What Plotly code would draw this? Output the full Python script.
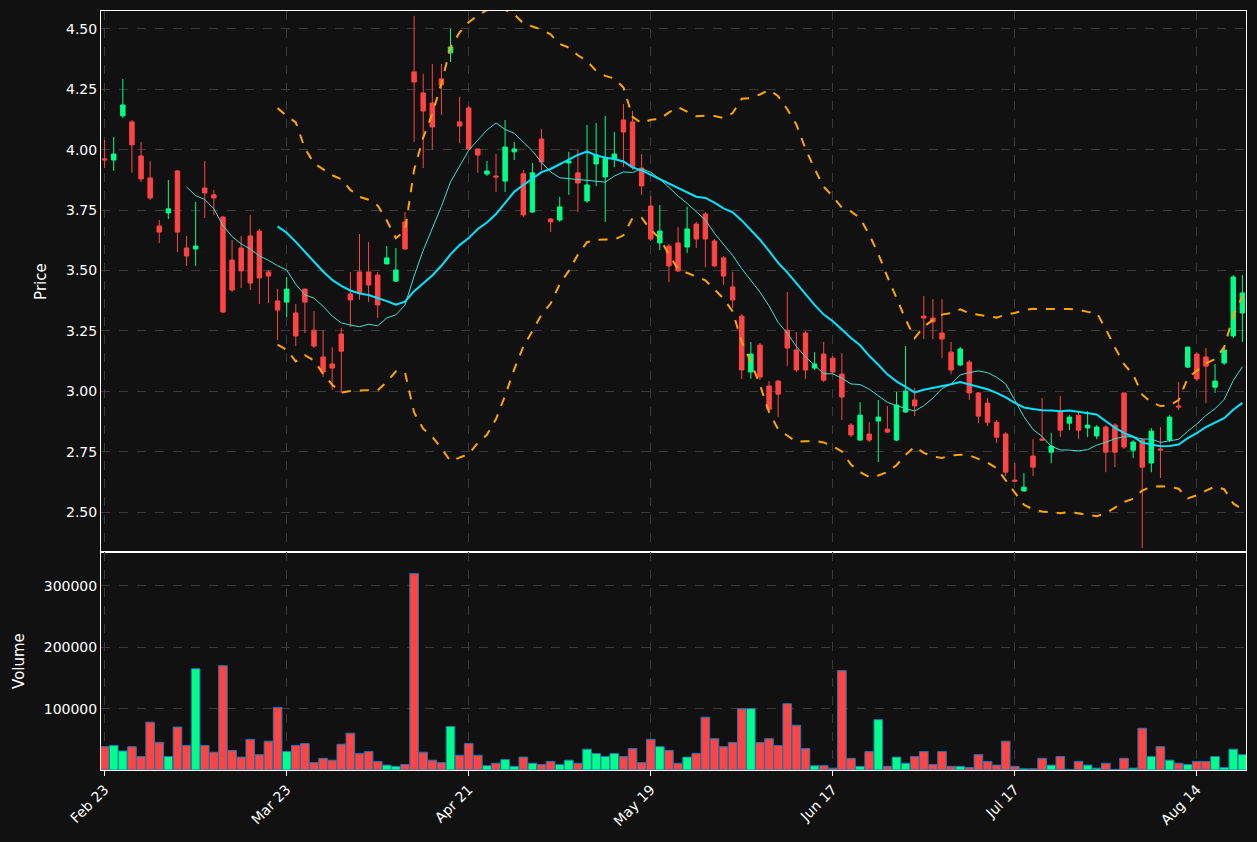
import pandas as pd
import plotly.graph_objects as go
from plotly.subplots import make_subplots

# daily bars (trading-day index)
open_ = [3.962, 3.957, 4.140, 4.115, 3.974, 3.883, 3.684, 3.738, 3.912, 3.593,
         3.589, 3.841, 3.813, 3.721, 3.543, 3.593, 3.643, 3.663, 3.494, 3.374,
         3.369, 3.324, 3.423, 3.253, 3.142, 3.113, 3.237, 3.403, 3.494, 3.494,
         3.481, 3.527, 3.456, 3.701, 4.322, 4.235, 4.193, 4.293, 4.401, 4.115,
         4.173, 4.003, 3.899, 3.891, 3.870, 3.991, 3.900, 3.742, 4.044, 3.713,
         3.709, 3.945, 3.904, 3.788, 3.941, 3.887, 3.962, 4.123, 4.115, 3.924,
         3.767, 3.614, 3.601, 3.614, 3.597, 3.692, 3.734, 3.622, 3.552, 3.432,
         3.311, 3.080, 3.191, 3.022, 3.042, 3.253, 3.171, 3.241, 3.096, 3.154,
         3.137, 3.071, 2.860, 2.798, 2.823, 2.877, 2.843, 2.798, 2.914, 2.964,
         3.311, 3.303, 3.241, 3.162, 3.109, 3.121, 2.993, 2.951, 2.872, 2.823,
         2.632, 2.587, 2.732, 2.802, 2.748, 2.914, 2.868, 2.901, 2.848, 2.815,
         2.852, 2.860, 2.993, 2.756, 2.798, 2.703, 2.761, 2.798, 2.939, 3.100,
         3.154, 3.142, 3.017, 3.117, 3.229, 3.324]
high = [4.040, 4.053, 4.293, 4.123, 4.032, 3.953, 3.709, 3.875, 3.916, 3.643,
        3.784, 3.953, 3.833, 3.726, 3.626, 3.643, 3.730, 3.672, 3.502, 3.423,
        3.473, 3.361, 3.425, 3.332, 3.253, 3.183, 3.262, 3.494, 3.651, 3.618,
        3.494, 3.601, 3.593, 3.742, 4.554, 4.314, 4.355, 4.355, 4.500, 4.218,
        4.181, 4.003, 3.953, 3.982, 4.123, 4.032, 3.916, 3.945, 4.086, 3.717,
        3.804, 3.991, 4.000, 4.102, 4.111, 4.140, 4.073, 4.189, 4.160, 3.982,
        3.808, 3.771, 3.610, 3.680, 3.763, 3.701, 3.742, 3.630, 3.560, 3.494,
        3.320, 3.204, 3.200, 3.042, 3.046, 3.411, 3.245, 3.249, 3.162, 3.204,
        3.146, 3.158, 2.868, 2.955, 2.872, 2.964, 2.939, 2.997, 3.187, 3.013,
        3.394, 3.382, 3.382, 3.204, 3.183, 3.129, 2.997, 2.972, 2.881, 2.831,
        2.703, 2.661, 2.802, 2.972, 2.827, 2.980, 2.901, 2.914, 2.918, 2.860,
        2.860, 2.868, 2.993, 2.798, 2.806, 2.848, 2.852, 2.901, 3.038, 3.183,
        3.162, 3.179, 3.113, 3.179, 3.481, 3.481]
low = [3.924, 3.912, 4.131, 3.904, 3.866, 3.792, 3.614, 3.713, 3.576, 3.519,
       3.519, 3.717, 3.730, 3.324, 3.411, 3.427, 3.419, 3.361, 3.365, 3.212,
       3.307, 3.187, 3.241, 3.179, 3.059, 3.005, 2.993, 3.266, 3.378, 3.370,
       3.303, 3.527, 3.452, 3.585, 4.032, 3.924, 4.000, 4.144, 4.363, 4.028,
       4.000, 3.904, 3.891, 3.825, 3.825, 3.957, 3.721, 3.738, 3.916, 3.659,
       3.701, 3.813, 3.742, 3.779, 3.850, 3.701, 3.928, 3.928, 3.916, 3.813,
       3.622, 3.585, 3.452, 3.494, 3.572, 3.593, 3.514, 3.514, 3.440, 3.345,
       3.051, 3.051, 3.046, 2.922, 2.893, 3.104, 3.080, 3.051, 3.088, 3.038,
       3.071, 2.881, 2.810, 2.794, 2.790, 2.707, 2.827, 2.794, 2.910, 2.897,
       3.216, 3.216, 3.137, 3.071, 3.104, 2.964, 2.868, 2.856, 2.786, 2.649,
       2.624, 2.587, 2.649, 2.794, 2.703, 2.810, 2.839, 2.802, 2.810, 2.802,
       2.665, 2.686, 2.761, 2.723, 2.351, 2.665, 2.641, 2.790, 2.922, 3.096,
       3.042, 2.951, 2.993, 3.109, 3.220, 3.204]
close = [3.958, 3.982, 4.185, 4.020, 3.879, 3.800, 3.659, 3.755, 3.659, 3.560,
         3.601, 3.821, 3.800, 3.328, 3.419, 3.498, 3.448, 3.469, 3.477, 3.336,
         3.423, 3.229, 3.369, 3.187, 3.080, 3.096, 3.166, 3.378, 3.407, 3.440,
         3.357, 3.552, 3.502, 3.589, 4.280, 4.160, 4.094, 4.268, 4.425, 4.098,
         4.003, 3.978, 3.912, 3.887, 4.011, 4.003, 3.730, 3.904, 3.949, 3.701,
         3.763, 3.953, 3.862, 3.854, 3.978, 3.962, 3.982, 4.073, 3.928, 3.850,
         3.630, 3.663, 3.519, 3.498, 3.672, 3.630, 3.630, 3.519, 3.477, 3.378,
         3.088, 3.154, 3.059, 2.926, 2.988, 3.179, 3.088, 3.088, 3.113, 3.046,
         3.080, 2.976, 2.819, 2.901, 2.798, 2.893, 2.831, 2.943, 3.001, 2.939,
         3.303, 3.287, 3.216, 3.088, 3.175, 2.993, 2.897, 2.872, 2.810, 2.665,
         2.628, 2.603, 2.686, 2.798, 2.773, 2.839, 2.893, 2.839, 2.860, 2.852,
         2.748, 2.748, 2.769, 2.790, 2.686, 2.835, 2.757, 2.893, 2.935, 3.183,
         3.051, 3.104, 3.042, 3.171, 3.473, 3.407]
volume = [38000, 40000, 31000, 38000, 22000, 78000, 45000, 22000, 70000, 40000,
          165000, 40000, 29000, 170000, 32000, 21000, 50000, 25000, 47000, 102000,
          30000, 40000, 43000, 12000, 19000, 16000, 42000, 60000, 27000, 30000,
          14000, 8000, 6000, 9000, 320000, 29000, 16000, 12000, 71000, 24000,
          43000, 24000, 7000, 11000, 17000, 6000, 21000, 11000, 9000, 14000,
          9000, 16000, 11000, 34000, 27000, 22000, 27000, 22000, 35000, 12000,
          50000, 38000, 32000, 11000, 21000, 27000, 86000, 51000, 38000, 45000,
          100000, 100000, 45000, 51000, 40000, 108000, 73000, 35000, 7000, 7000,
          3000, 162000, 19000, 6000, 30000, 82000, 6000, 21000, 11000, 22000,
          30000, 9000, 30000, 6000, 6000, 4000, 25000, 14000, 8000, 47000,
          6000, 2000, 2000, 19000, 8000, 22000, 1000, 14000, 8000, 3000,
          11000, 1000, 19000, 3000, 68000, 22000, 38000, 16000, 11000, 9000,
          14000, 14000, 22000, 4000, 34000, 25000]
tick_pos = [0, 20, 40, 60, 80, 100, 120]
tick_text = ["Feb 23", "Mar 23", "Apr 21", "May 19", "Jun 17", "Jul 17", "Aug 14"]

UP = "#00ff88"
DOWN = "#ff4444"

df = pd.DataFrame({"open": open_, "high": high, "low": low, "close": close, "volume": volume})
df["ma10"] = df["close"].rolling(10).mean()
df["ma20"] = df["close"].rolling(20).mean()
sd = df["close"].rolling(20).std()
df["upper"] = df["ma20"] + 2 * sd
df["lower"] = df["ma20"] - 2 * sd
x = list(range(len(df)))
bar_colors = [UP if c >= o else DOWN for o, c in zip(df["open"], df["close"])]

fig = make_subplots(rows=2, cols=1, shared_xaxes=True, vertical_spacing=0,
                    row_heights=[0.713, 0.287])

fig.add_trace(go.Candlestick(x=x, open=df["open"], high=df["high"], low=df["low"], close=df["close"],
                             increasing=dict(line=dict(color=UP, width=1), fillcolor=UP),
                             decreasing=dict(line=dict(color=DOWN, width=1), fillcolor=DOWN),
                             showlegend=False), row=1, col=1)
fig.add_trace(go.Scatter(x=x, y=df["upper"], mode="lines", line=dict(color="orange", width=2, dash="dash"),
                         showlegend=False), row=1, col=1)
fig.add_trace(go.Scatter(x=x, y=df["lower"], mode="lines", line=dict(color="orange", width=2, dash="dash"),
                         showlegend=False), row=1, col=1)
fig.add_trace(go.Scatter(x=x, y=df["ma20"], mode="lines", line=dict(color="#00e5ff", width=2),
                         showlegend=False), row=1, col=1)
fig.add_trace(go.Scatter(x=x, y=df["ma10"], mode="lines", line=dict(color="#40e0d0", width=1),
                         showlegend=False), row=1, col=1)
fig.add_trace(go.Bar(x=x, y=df["volume"], marker=dict(color=bar_colors, line=dict(color="#1f77b4", width=1)),
                     showlegend=False), row=2, col=1)

axis_style = dict(showline=True, mirror=True, linecolor="white", linewidth=1,
                  gridcolor="#3a3a3a", griddash="dash", zeroline=False,
                  tickfont=dict(color="white", size=14))
fig.update_xaxes(axis_style, range=[-0.4, 125.4], tickvals=tick_pos, ticktext=tick_text,
                 rangeslider_visible=False)
fig.update_xaxes(tickangle=-45, ticks="outside", tickcolor="white", row=2, col=1)
fig.update_yaxes(axis_style)
fig.update_yaxes(title=dict(text="Price", font=dict(color="white", size=15)), range=[2.334, 4.574],
                 tickvals=[2.5, 2.75, 3.0, 3.25, 3.5, 3.75, 4.0, 4.25, 4.5], tickformat=".2f", row=1, col=1)
fig.update_yaxes(title=dict(text="Volume", font=dict(color="white", size=15)), range=[0, 355000],
                 tickvals=[100000, 200000, 300000], tickformat="d", row=2, col=1)

fig.update_layout(width=1241, height=826, paper_bgcolor="#111111", plot_bgcolor="#111111",
                  margin=dict(l=93, r=3, t=3, b=64), bargap=0.05,
                  font=dict(family="DejaVu Sans", color="white"))
fig.write_html("out.html", post_script="document.body.style.background='#111111';")
